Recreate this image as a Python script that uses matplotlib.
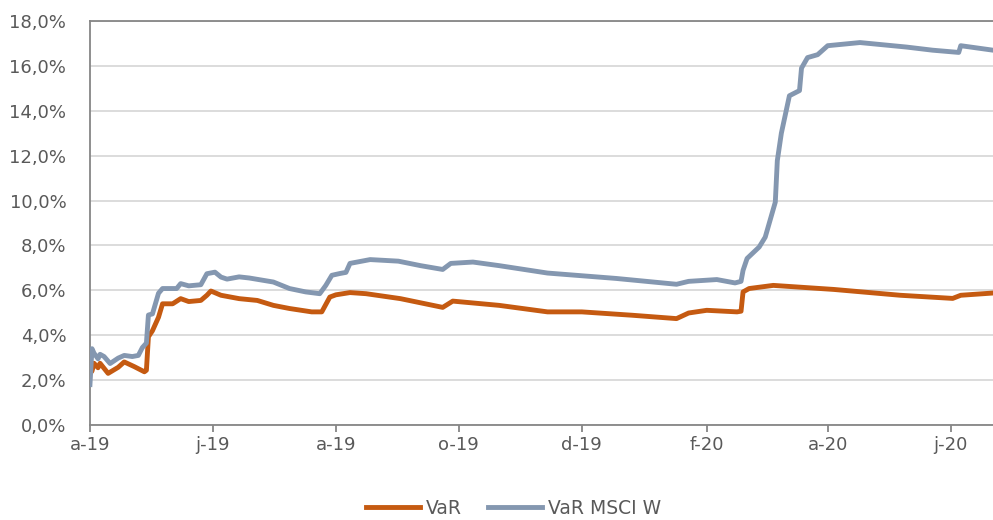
import matplotlib
matplotlib.use("Agg")
import matplotlib.pyplot as plt
import matplotlib.dates as mdates
import pandas as pd
from matplotlib.ticker import FuncFormatter

# --- datos ---
var_dates = ["2019-04-01", "2019-04-02", "2019-04-03", "2019-04-05", "2019-04-06", "2019-04-10",
             "2019-04-15", "2019-04-18", "2019-04-23", "2019-04-28", "2019-04-29", "2019-04-30",
             "2019-05-02", "2019-05-05", "2019-05-07", "2019-05-12", "2019-05-16", "2019-05-20",
             "2019-05-26", "2019-05-29", "2019-05-31", "2019-06-05", "2019-06-14", "2019-06-23",
             "2019-07-01", "2019-07-09", "2019-07-20", "2019-07-25", "2019-07-29", "2019-08-01",
             "2019-08-08", "2019-08-16", "2019-09-02", "2019-09-23", "2019-09-28", "2019-10-21",
             "2019-11-14", "2019-12-01", "2019-12-26", "2020-01-17", "2020-01-23", "2020-02-01",
             "2020-02-16", "2020-02-18", "2020-02-19", "2020-02-22", "2020-03-05", "2020-04-04",
             "2020-05-07", "2020-06-02", "2020-06-06", "2020-06-22"]
var_vals = [2.3, 2.4, 2.75, 2.55, 2.75, 2.3,
            2.57, 2.81, 2.6, 2.37, 2.44, 3.93,
            4.2, 4.8, 5.4, 5.4, 5.63, 5.5,
            5.55, 5.78, 5.97, 5.78, 5.63, 5.55,
            5.33, 5.19, 5.04, 5.04, 5.7, 5.8,
            5.9, 5.85, 5.63, 5.24, 5.52, 5.33,
            5.04, 5.04, 4.89, 4.74, 4.99, 5.11,
            5.04, 5.07, 5.93, 6.08, 6.22, 6.04,
            5.78, 5.64, 5.78, 5.88]

msci_dates = ["2019-04-01", "2019-04-02", "2019-04-03", "2019-04-05", "2019-04-06", "2019-04-08",
              "2019-04-11", "2019-04-15", "2019-04-18", "2019-04-22", "2019-04-25", "2019-04-27",
              "2019-04-29", "2019-04-30", "2019-05-02", "2019-05-05", "2019-05-07", "2019-05-14",
              "2019-05-16", "2019-05-20", "2019-05-26", "2019-05-29", "2019-06-02", "2019-06-05",
              "2019-06-08", "2019-06-14", "2019-06-19", "2019-07-01", "2019-07-09", "2019-07-17",
              "2019-07-24", "2019-07-27", "2019-07-30", "2019-08-03", "2019-08-06", "2019-08-08",
              "2019-08-18", "2019-09-01", "2019-09-12", "2019-09-23", "2019-09-27", "2019-10-08",
              "2019-10-21", "2019-11-14", "2019-12-18", "2020-01-17", "2020-01-23", "2020-02-06",
              "2020-02-15", "2020-02-18", "2020-02-19", "2020-02-21", "2020-02-27", "2020-03-01",
              "2020-03-06", "2020-03-07", "2020-03-09", "2020-03-13", "2020-03-18", "2020-03-19",
              "2020-03-22", "2020-03-27", "2020-04-01", "2020-04-17", "2020-05-10", "2020-05-23",
              "2020-06-05", "2020-06-06", "2020-06-22"]
msci_vals = [1.8, 3.4, 3.2, 2.95, 3.15, 3.05,
             2.74, 2.98, 3.1, 3.05, 3.1, 3.45,
             3.65, 4.9, 4.95, 5.87, 6.08, 6.08,
             6.3, 6.2, 6.25, 6.74, 6.81, 6.59,
             6.5, 6.6, 6.55, 6.37, 6.08, 5.93,
             5.85, 6.22, 6.67, 6.75, 6.8, 7.2,
             7.37, 7.3, 7.1, 6.93, 7.2, 7.26,
             7.1, 6.77, 6.53, 6.27, 6.4, 6.48,
             6.33, 6.4, 6.89, 7.42, 7.93, 8.37,
             9.93, 11.78, 13.0, 14.67, 14.9, 15.9,
             16.37, 16.5, 16.9, 17.04, 16.84, 16.7,
             16.6, 16.9, 16.7]

series_names = ["VaR", "VaR MSCI W"]
meses = ["e", "f", "m", "a", "m", "j", "j", "a", "s", "o", "n", "d"]

c_var = "#C55A11"
c_msci = "#8497B0"
c_txt = "#595959"

fig = plt.figure(figsize=(9.93, 5.2), dpi=100)
ax = fig.add_axes([0.0906, 0.1827, 0.9094, 0.7769])

ax.plot(pd.to_datetime(var_dates), var_vals, color=c_var, lw=3.5, label=series_names[0],
        solid_joinstyle="round", zorder=3)
ax.plot(pd.to_datetime(msci_dates), msci_vals, color=c_msci, lw=3.5, label=series_names[1],
        solid_joinstyle="round", zorder=3)

ax.set_ylim(0, 18)
ax.set_yticks(range(0, 19, 2))
ax.yaxis.set_major_formatter(FuncFormatter(lambda v, p: f"{v:.1f}%".replace(".", ",")))
ax.set_xlim(pd.Timestamp("2019-04-01"), pd.Timestamp("2020-06-22"))
ax.xaxis.set_major_locator(mdates.MonthLocator(bymonth=[2, 4, 6, 8, 10, 12]))
ax.xaxis.set_major_formatter(FuncFormatter(
    lambda v, p: f"{meses[mdates.num2date(v).month - 1]}-{mdates.num2date(v).year % 100:02d}"))

ax.grid(axis="y", color="#D9D9D9", lw=1.3)
ax.set_axisbelow(True)
for s in ["top", "left", "bottom"]:
    ax.spines[s].set_color("#868686")
    ax.spines[s].set_linewidth(1.3)
ax.spines["right"].set_visible(False)
ax.tick_params(axis="y", length=0, pad=17, labelsize=13, labelcolor=c_txt)
ax.tick_params(axis="x", length=5, width=1.3, color="#868686", pad=3, labelsize=13, labelcolor=c_txt)

fig.legend(loc="center", bbox_to_anchor=(0.517, 0.022), ncol=2, frameon=False,
           handlelength=2.9, columnspacing=1.4, handletextpad=0.3,
           prop={"size": 13.5}, labelcolor=c_txt)

fig.savefig("out.png", dpi=100)
